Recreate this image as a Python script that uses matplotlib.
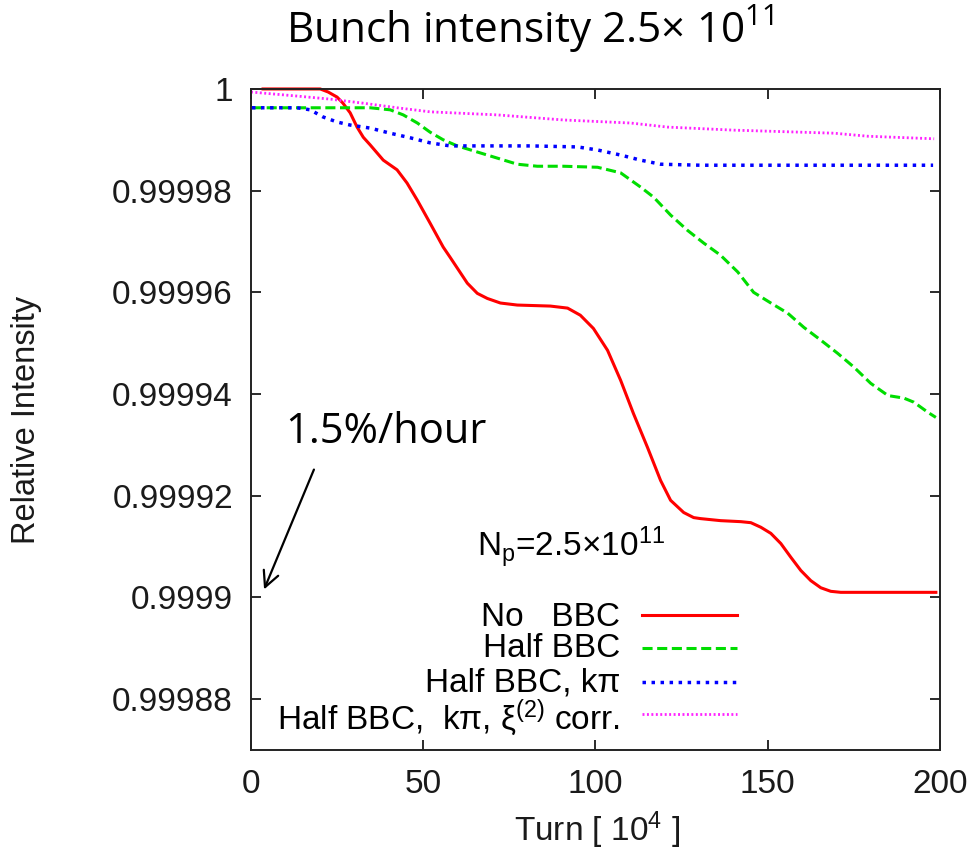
import matplotlib
matplotlib.use("Agg")
import matplotlib.pyplot as plt

plt.rcParams['font.family'] = ['Liberation Sans', 'DejaVu Sans']
plt.rcParams['mathtext.fontset'] = 'custom'
plt.rcParams['mathtext.rm'] = 'Liberation Sans'
plt.rcParams['mathtext.it'] = 'Liberation Sans:italic'
plt.rcParams['mathtext.sf'] = 'Open Sans'

# No BBC
turn_nobbc = [3.5, 20.1, 22.4, 25.0, 26.7, 28.8, 30.8, 32.6, 34.6, 38.4, 42.4, 45.3,
              48.3, 52.0, 55.8, 57.8, 62.8, 65.7, 68.6, 72.4, 77.3, 86.9, 91.9, 95.6,
              99.4, 103.5, 107.3, 111.0, 115.1, 118.9, 121.8, 125.6, 128.5, 130.5,
              136.3, 142.2, 145.1, 148.0, 150.9, 153.8, 156.7, 159.6, 162.5, 165.4,
              168.3, 171.2, 198.8]
int_nobbc = [1.0000000, 1.0000000, 0.9999994, 0.9999984, 0.9999972, 0.9999953,
             0.9999925, 0.9999905, 0.9999890, 0.9999860, 0.9999841, 0.9999815,
             0.9999781, 0.9999736, 0.9999689, 0.9999669, 0.9999618, 0.9999598,
             0.9999588, 0.9999579, 0.9999575, 0.9999573, 0.9999569, 0.9999555,
             0.9999529, 0.9999486, 0.9999427, 0.9999362, 0.9999295, 0.9999230,
             0.9999191, 0.9999167, 0.9999157, 0.9999155, 0.9999151, 0.9999149,
             0.9999147, 0.9999138, 0.9999126, 0.9999106, 0.9999079, 0.9999053,
             0.9999033, 0.9999019, 0.9999012, 0.9999010, 0.9999010]

# Half BBC
turn_half = [0.3, 34.6, 40.4, 44.2, 48.3, 52.0, 55.8, 59.9, 65.7, 71.5, 77.3, 83.1,
             90.7, 100.6, 107.3, 113.1, 116.9, 121.8, 126.7, 131.4, 136.3, 141.3,
             145.9, 150.9, 155.8, 160.5, 165.4, 170.3, 175.0, 179.9, 184.9, 189.5,
             192.4, 196.5, 198.8]
int_half = [0.9999963, 0.9999963, 0.9999959, 0.9999949, 0.9999933, 0.9999915,
            0.9999900, 0.9999888, 0.9999876, 0.9999864, 0.9999852, 0.9999848,
            0.9999848, 0.9999846, 0.9999835, 0.9999807, 0.9999787, 0.9999752,
            0.9999722, 0.9999697, 0.9999673, 0.9999640, 0.9999600, 0.9999579,
            0.9999559, 0.9999531, 0.9999506, 0.9999480, 0.9999453, 0.9999421,
            0.9999397, 0.9999392, 0.9999384, 0.9999364, 0.9999354]

# Half BBC, k pi
turn_kpi = [0.3, 13.4, 17.2, 20.9, 25.0, 28.8, 34.6, 40.4, 46.2, 52.0, 57.8, 81.1,
            94.8, 100.6, 107.3, 113.1, 118.9, 130.5, 198.0]
int_kpi = [0.9999963, 0.9999963, 0.9999959, 0.9999945, 0.9999935, 0.9999929,
           0.9999923, 0.9999913, 0.9999904, 0.9999894, 0.9999888, 0.9999888,
           0.9999886, 0.9999880, 0.9999870, 0.9999860, 0.9999852, 0.9999850,
           0.9999850]

# Half BBC, k pi, xi(2) corr.
turn_corr = [0.0, 13.4, 23.0, 32.6, 42.4, 52.0, 71.5, 90.7, 110.2, 120.9, 140.1,
             159.6, 169.2, 179.1, 198.3]
int_corr = [0.9999994, 0.9999986, 0.9999980, 0.9999972, 0.9999963, 0.9999955,
            0.9999949, 0.9999939, 0.9999933, 0.9999925, 0.9999919, 0.9999915,
            0.9999913, 0.9999907, 0.9999902]

yticks = [0.99988, 0.9999, 0.99992, 0.99994, 0.99996, 0.99998, 1.0]
ytick_labels = ['0.99988', '0.9999', '0.99992', '0.99994', '0.99996', '0.99998', '1']
xticks = [0, 50, 100, 150, 200]

labels = ['No   BBC', 'Half BBC', 'Half BBC, k\u03c0',
          'Half BBC,  k\u03c0, \u03be$^{(2)}$ corr.']

styles = [
    dict(color='#ff0000', lw=2.2, linestyle='-'),
    dict(color='#00dd00', lw=2.2, linestyle=(0, (3.3, 1.5))),
    dict(color='#0000ff', lw=2.5, linestyle=(0, (1.0, 1.6))),
    dict(color='#ff22ff', lw=2.0, linestyle=(0, (0.7, 0.9))),
]

fig = plt.figure(figsize=(9.75, 8.57), dpi=100)
ax = fig.add_axes([0.2574, 0.1249, 0.7067, 0.7713])

series = [(turn_nobbc, int_nobbc), (turn_half, int_half),
          (turn_kpi, int_kpi), (turn_corr, int_corr)]
for (xs, ys), st in zip(series, styles):
    ax.plot(xs, ys, clip_on=False, **st)

ax.set_xlim(0, 200)
ax.set_ylim(0.99987, 1.0)
ax.set_xticks(xticks)
ax.set_xticklabels([str(t) for t in xticks])
ax.set_yticks(yticks)
ax.set_yticklabels(ytick_labels)
ax.tick_params(direction='in', length=7, width=1.3, top=True, right=True,
               labelsize=24, colors='#1a1a1a')
ax.tick_params(axis='x', pad=14)
ax.tick_params(axis='y', pad=13)
for s in ax.spines.values():
    s.set_linewidth(1.4)
    s.set_color('#222222')

# key, gnuplot style (text right, sample left)
rows_line = [0.2042, 0.1543, 0.1029, 0.0545]
rows_text = [0.1876, 0.1407, 0.0877, 0.0303]
for st, lab, yl, yt in zip(styles, labels, rows_line, rows_text):
    ax.text(0.5356, yt, lab, transform=ax.transAxes, ha='right', va='baseline',
            fontsize=24)
    ax.plot([0.5675, 0.7054], [yl, yl], transform=ax.transAxes, clip_on=False, **st)

ax.text(0.328, 0.292, 'N$_{\\mathrm{p}}$=2.5\u00d710$^{11}$', transform=ax.transAxes,
        ha='left', va='baseline', fontsize=24)

fig.text(0.5436, 1 - 43 / 857, 'Bunch intensity 2.5\u00d7 10$^{\\mathsf{11}}$',
         ha='center', va='baseline', fontsize=30.4, family=['Open Sans', 'DejaVu Sans'])
fig.text(0.2923, 1 - 443 / 857, '1.5%/hour', ha='left', va='baseline', fontsize=30,
         family=['Open Sans', 'DejaVu Sans'])
fig.text(27 / 975, 1 - 420 / 857, 'Relative Intensity', rotation=90, ha='center',
         va='center', fontsize=23.5, color='#1a1a1a')
fig.text(597 / 975, 1 - 830 / 857, 'Turn [ 10$^{4}$ ]', ha='center', va='center',
         fontsize=24, color='#1a1a1a')

ax.annotate('', xy=(263 / 975, 1 - 592 / 857), xycoords='figure fraction',
            xytext=(315 / 975, 1 - 467 / 857), textcoords='figure fraction',
            arrowprops=dict(arrowstyle='->', lw=1.6, color='black',
                            mutation_scale=28))

fig.savefig('out.png', dpi=100)
